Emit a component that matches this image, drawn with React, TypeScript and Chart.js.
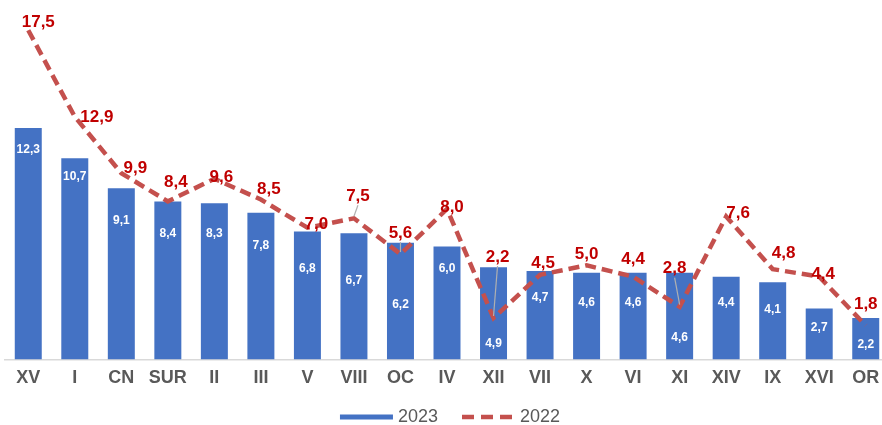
import React, { useEffect, useRef } from "react";
import { Chart, registerables } from "chart.js";

Chart.register(...registerables);

const categories = ["XV", "I", "CN", "SUR", "II", "III", "V", "VIII", "OC", "IV", "XII", "VII", "X", "VI", "XI", "XIV", "IX", "XVI", "OR"];
const values2023 = [12.3, 10.7, 9.1, 8.4, 8.3, 7.8, 6.8, 6.7, 6.2, 6.0, 4.9, 4.7, 4.6, 4.6, 4.6, 4.4, 4.1, 2.7, 2.2];
const values2022 = [17.5, 12.9, 9.9, 8.4, 9.6, 8.5, 7.0, 7.5, 5.6, 8.0, 2.2, 4.5, 5.0, 4.4, 2.8, 7.6, 4.8, 4.4, 1.8];
const seriesNames = ["2023", "2022"];

// label placement nudges (pixels, relative to the mark) — styling only
const barLabelDy = [22, 19, 32, 32, 30, 33, 37, 47, 62, 22, 76, 27, 30, 30, 65, 26, 27, 19, 27];
const lineLabelNudge: [number, number, number][] = [
  [10, -8, 0], [22, 1, 0], [14, -5, 0], [8, -19, 0], [7, -2, 0], [8, -10, 0], [9, -3, 0],
  [4, -22, 1], [0, -21, 1], [5, -2, 0], [4, -61, 1], [3, -11, 0], [0, -11, 0], [0, -17, 0],
  [-5, -38, 1], [12, -3, 0], [11, -16, 0], [4, -2, 0], [0, -21, 0],
];

const BLUE = "#4472c4";
const LINE_RED = "#c4504d";
const LABEL_RED = "#c00000";
const GRAY_TEXT = "#595959";
const FONT = "'Liberation Sans', Arial, Helvetica, sans-serif";

const fmt = (v: number) => v.toFixed(1).replace(".", ",");

const labelsPlugin = {
  id: "customLabels",
  afterDatasetsDraw(chart: any) {
    const ctx = chart.ctx;
    const barMeta = chart.getDatasetMeta(0);
    const lineMeta = chart.getDatasetMeta(1);
    ctx.save();
    ctx.textAlign = "center";
    ctx.textBaseline = "middle";
    // bar labels
    ctx.font = `bold 12px ${FONT}`;
    ctx.fillStyle = "#ffffff";
    barMeta.data.forEach((el: any, i: number) => {
      ctx.fillText(fmt(values2023[i]), el.x, el.y + barLabelDy[i]);
    });
    // leader lines + line labels
    lineMeta.data.forEach((pt: any, i: number) => {
      const [dx, dy, leader] = lineLabelNudge[i];
      const lx = pt.x + dx;
      const ly = pt.y + dy;
      if (leader) {
        ctx.strokeStyle = "#b0b0b0";
        ctx.lineWidth = 1.2;
        ctx.beginPath();
        ctx.moveTo(lx, ly + 9);
        ctx.lineTo(pt.x, pt.y - 2);
        ctx.stroke();
      }
    });
    ctx.font = `bold 17px ${FONT}`;
    ctx.fillStyle = LABEL_RED;
    lineMeta.data.forEach((pt: any, i: number) => {
      const [dx, dy] = lineLabelNudge[i];
      ctx.fillText(fmt(values2022[i]), pt.x + dx, pt.y + dy);
    });
    ctx.restore();
  },
  afterDraw(chart: any) {
    const ctx = chart.ctx;
    ctx.save();
    ctx.font = `18px ${FONT}`;
    ctx.textBaseline = "middle";
    ctx.textAlign = "left";
    const w1 = 53, w2 = 50, gapText = 5, gapItem = 24;
    const t1 = ctx.measureText(seriesNames[0]).width;
    const t2 = ctx.measureText(seriesNames[1]).width;
    const total = w1 + gapText + t1 + gapItem + w2 + 8 + t2;
    let x = chart.width / 2 + 5 - total / 2;
    const y = 417;
    ctx.fillStyle = BLUE;
    ctx.fillRect(x, y - 2.5, w1, 5);
    x += w1 + gapText;
    ctx.fillStyle = GRAY_TEXT;
    ctx.fillText(seriesNames[0], x, y);
    x += t1 + gapItem;
    ctx.strokeStyle = LINE_RED;
    ctx.lineWidth = 4.5;
    ctx.setLineDash([12, 7]);
    ctx.beginPath();
    ctx.moveTo(x, y);
    ctx.lineTo(x + w2, y);
    ctx.stroke();
    ctx.setLineDash([]);
    x += w2 + 8;
    ctx.fillStyle = GRAY_TEXT;
    ctx.fillText(seriesNames[1], x, y);
    ctx.restore();
  },
};

export default function App() {
  const canvasRef = useRef<HTMLCanvasElement | null>(null);

  useEffect(() => {
    if (!canvasRef.current) return;
    const chart = new Chart(canvasRef.current, {
      type: "bar",
      data: {
        labels: categories,
        datasets: [
          {
            type: "bar",
            label: seriesNames[0],
            data: values2023,
            backgroundColor: BLUE,
            barPercentage: 0.58,
            categoryPercentage: 1,
            order: 2,
          },
          {
            type: "line",
            label: seriesNames[1],
            data: values2022,
            borderColor: LINE_RED,
            borderWidth: 4.5,
            borderDash: [11, 6],
            pointRadius: 0,
            tension: 0,
            fill: false,
            order: 1,
          } as any,
        ],
      },
      options: {
        animation: false,
        responsive: true,
        maintainAspectRatio: false,
        layout: { padding: { left: 5, right: 1, top: 2, bottom: 28 } },
        plugins: {
          legend: { display: false },
          tooltip: { enabled: false },
        },
        scales: {
          x: {
            grid: { display: false, drawTicks: false, tickLength: 0 },
            border: { display: true, color: "#d9d9d9", width: 1.5 },
            ticks: {
              color: GRAY_TEXT,
              font: { family: FONT, size: 18, weight: "bold" },
              padding: 8,
              maxRotation: 0,
              autoSkip: false,
            },
          },
          y: { display: false, min: 0, max: 19 },
        },
      },
      plugins: [labelsPlugin],
    });
    return () => chart.destroy();
  }, []);

  return (
    <div style={{ position: "fixed", left: 0, top: 0, width: 890, height: 425, background: "#ffffff" }}>
      <canvas ref={canvasRef} />
    </div>
  );
}
